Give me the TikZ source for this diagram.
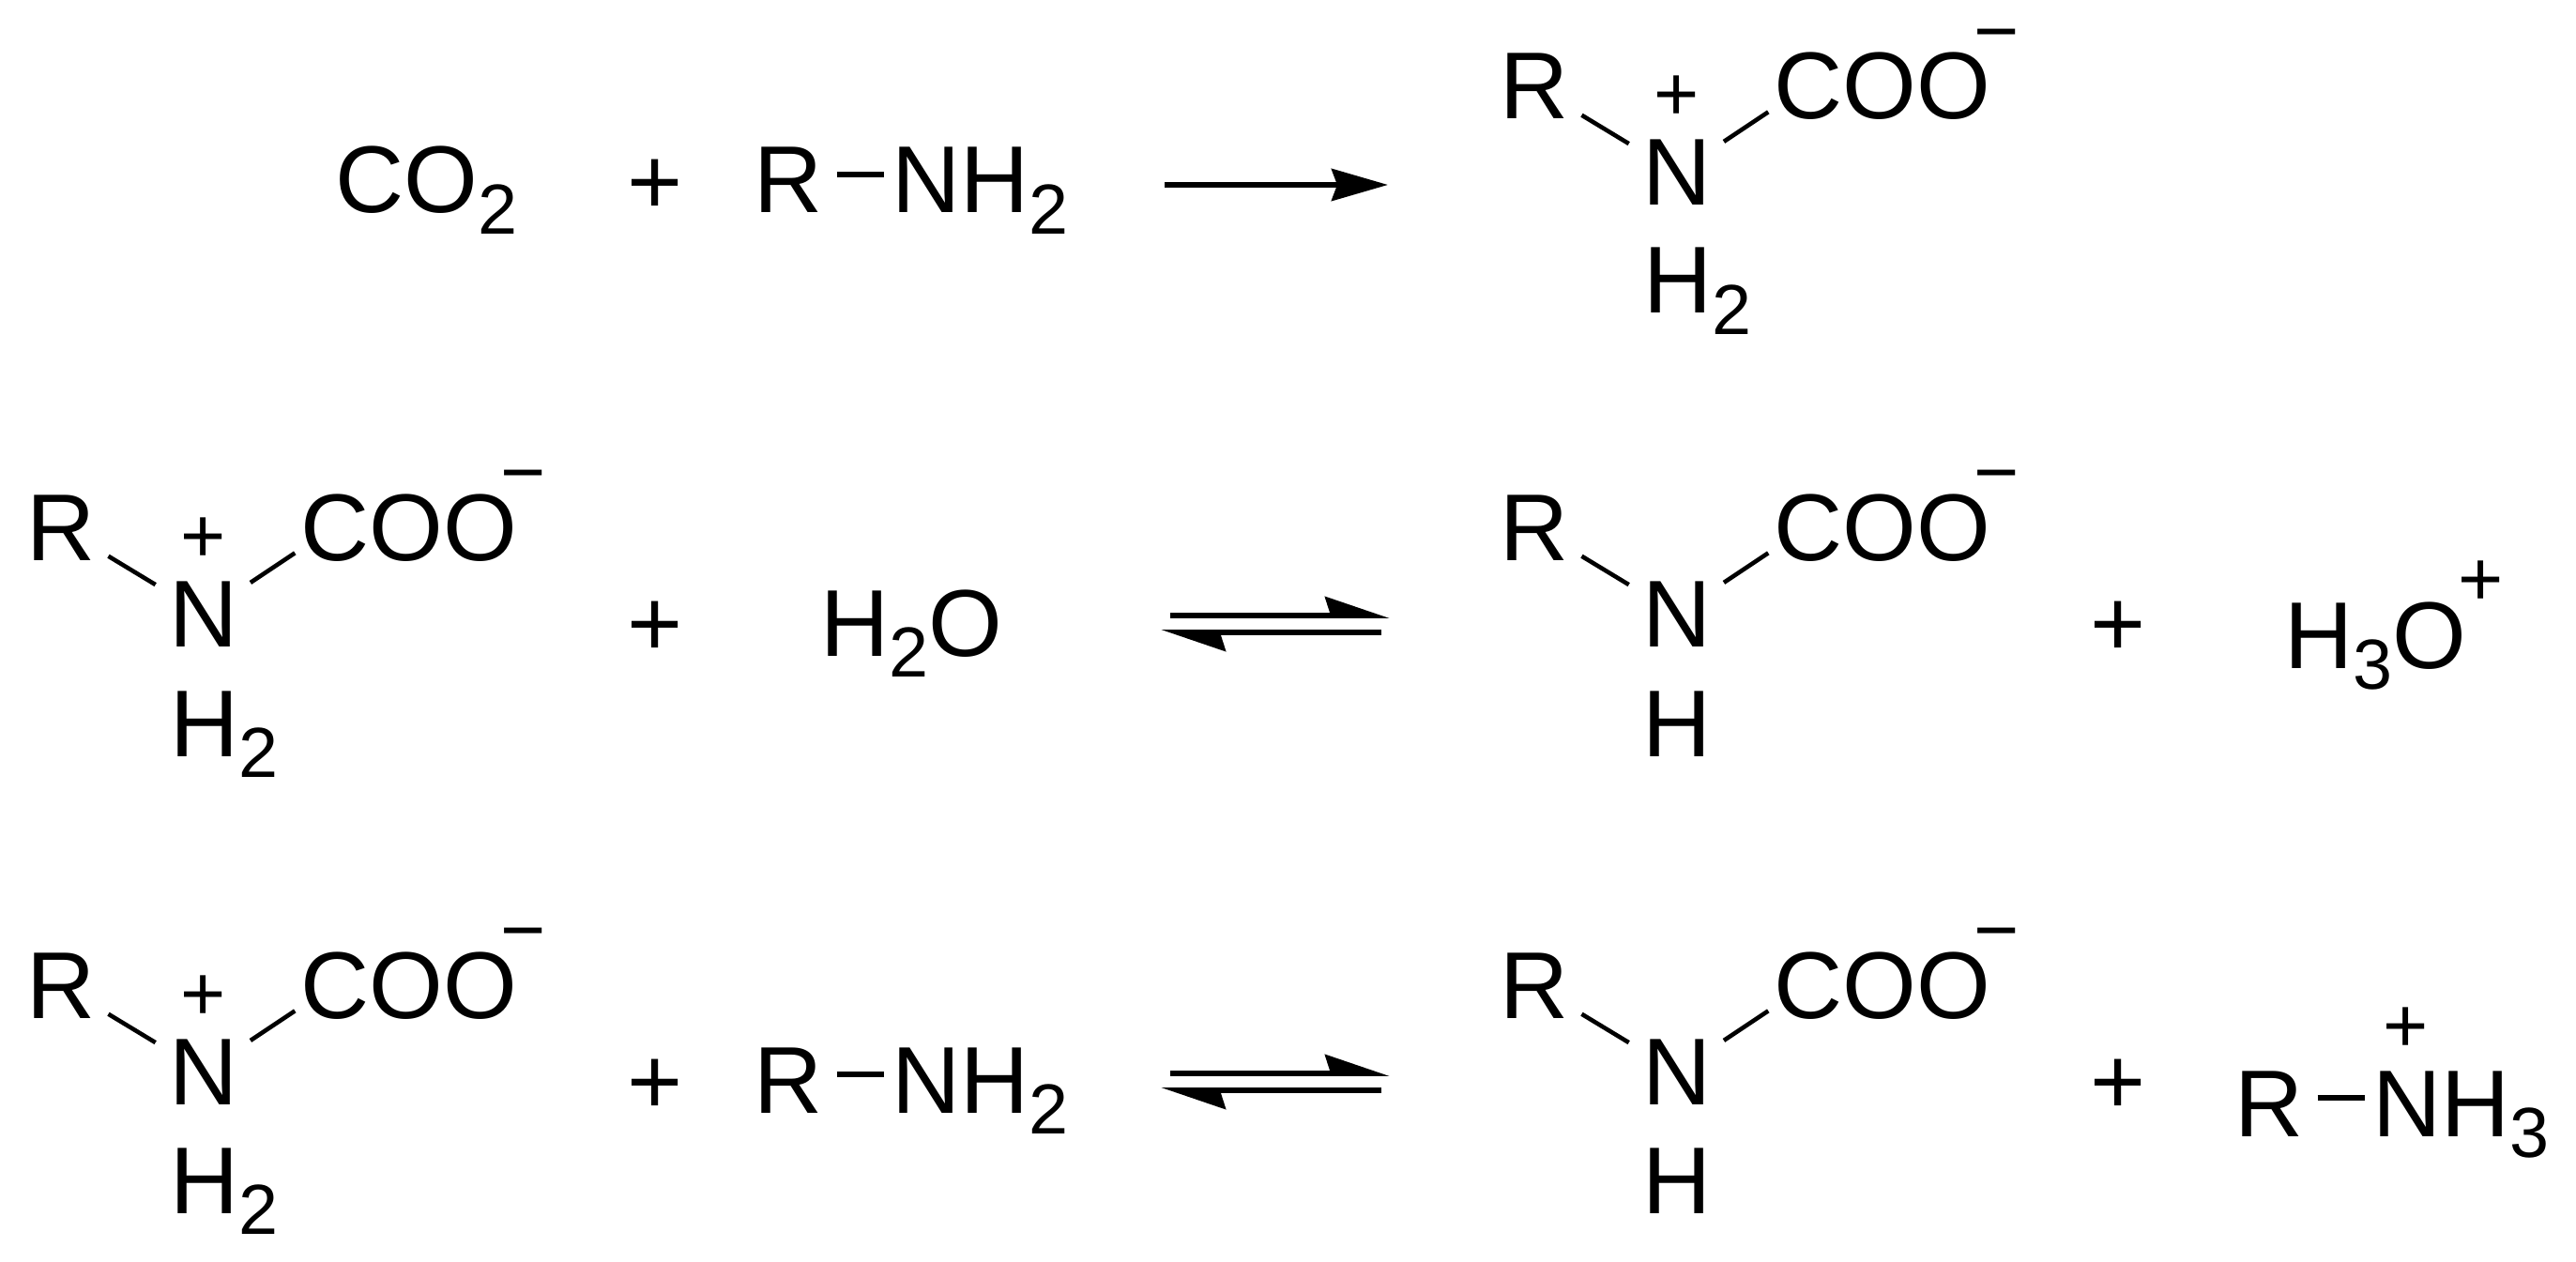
\documentclass[tikz,border=0pt]{standalone}
\usepackage{fontspec}
\setmainfont{Liberation Sans}
\usetikzlibrary{arrows.meta}
\tikzset{
  atom/.style={inner sep=0pt,anchor=base,font=\fontsize{28.8pt}{30pt}\selectfont},
  atomw/.style={atom,anchor=base west},
  charge/.style={inner sep=0pt,font=\fontsize{23.5pt}{24pt}\selectfont},
  bond/.style={line width=1.3pt},
  rxn/.style={line width=1.7pt},
  fwd/.style={rxn,-{Stealth[length=.6cm,width=.34cm,inset=.06cm]}},
  half/.style={rxn,-{Stealth[harpoon,length=.6cm,width=.4cm,inset=.06cm]}},
  rnbond/.style={line width=1.6pt,shorten <=.14cm,shorten >=.08cm},
}
\newcommand{\low}[1]{\raisebox{-.22cm}{\fontsize{21.5pt}{22pt}\selectfont #1}}
% x, baseline of N, name
\newcommand{\carbamate}[3]{%
  \node[atom] (#3N) at (#1,#2) {N};
  \node[atom] (#3R) at (#1-1.52,#2+.92) {R};
  \node[atom] (#3C) at (#1+2.19,#2+.92) {COO};
  \node[charge] (#3m) at (#1+3.41,#2+1.725) {−};
  \draw[bond,shorten <=.59cm,shorten >=.6cm] (#3R.center) -- (#3N.center);
  \draw[bond,shorten <=.6cm,shorten >=.49cm] (#3N.center) -- ([xshift=.35cm]#3C.west);
}
\begin{document}
\begin{tikzpicture}
  \useasboundingbox (0,0) rectangle (27.45,13.44);
  % first row
  \node[atomw] (co2) at (3.57,11.17) {CO\low{2}};
  \node[atom] (p1) at (6.98,11.15) {+};
  \node[atomw] (r1) at (8.03,11.17) {R};
  \node[atomw] (n1) at (9.50,11.17) {NH\low{2}};
  \draw[rnbond] ([yshift=.41cm]r1.base east) -- ([yshift=.41cm]n1.base west);
  \coordinate (a1s) at (12.41,11.47);
  \coordinate (a1e) at (14.79,11.47);
  \draw[fwd] (a1s) -- (a1e);
  \carbamate{17.87}{11.25}{a}
  \node[charge] (ap) at (17.87,12.39) {+};
  \node[atomw] (ah) at (17.51,10.10) {H\low{2}};
  % second row
  \carbamate{2.17}{6.55}{b}
  \node[charge] (bp) at (2.17,7.68) {+};
  \node[atomw] (bh) at (1.81,5.38) {H\low{2}};
  \node[atom] (p2) at (6.98,6.45) {+};
  \node[atomw] (wat) at (8.74,6.45) {H\low{2}O};
  \coordinate (a2s) at (12.47,6.88);
  \coordinate (a2e) at (14.81,6.88);
  \coordinate (a3s) at (14.72,6.70);
  \coordinate (a3e) at (12.37,6.70);
  \draw[half] (a2s) -- (a2e);
  \draw[half] (a3s) -- (a3e);
  \carbamate{17.87}{6.55}{c}
  \node[atom] (ch) at (17.87,5.38) {H};
  \node[atom] (p3) at (22.57,6.45) {+};
  \node[atomw] (hyd) at (24.34,6.32) {H\low{3}O};
  \node[charge] (hp) at (26.44,7.22) {+};
  % third row
  \carbamate{2.17}{1.67}{d}
  \node[charge] (dp) at (2.17,2.80) {+};
  \node[atomw] (dh) at (1.81,.51) {H\low{2}};
  \node[atom] (p4) at (6.98,1.57) {+};
  \node[atomw] (r2) at (8.03,1.58) {R};
  \node[atomw] (n2) at (9.50,1.58) {NH\low{2}};
  \draw[rnbond] ([yshift=.41cm]r2.base east) -- ([yshift=.41cm]n2.base west);
  \coordinate (a4s) at (12.47,2.0);
  \coordinate (a4e) at (14.81,2.0);
  \coordinate (a5s) at (14.72,1.82);
  \coordinate (a5e) at (12.37,1.82);
  \draw[half] (a4s) -- (a4e);
  \draw[half] (a5s) -- (a5e);
  \carbamate{17.87}{1.67}{e}
  \node[atom] (eh) at (17.87,.51) {H};
  \node[atom] (p5) at (22.57,1.57) {+};
  \node[atomw] (r3) at (23.81,1.33) {R};
  \node[atomw] (n3) at (25.28,1.33) {NH\low{3}};
  \draw[rnbond] ([yshift=.41cm]r3.base east) -- ([yshift=.41cm]n3.base west);
  \node[charge] (rp) at (25.64,2.46) {+};
\end{tikzpicture}
\end{document}
